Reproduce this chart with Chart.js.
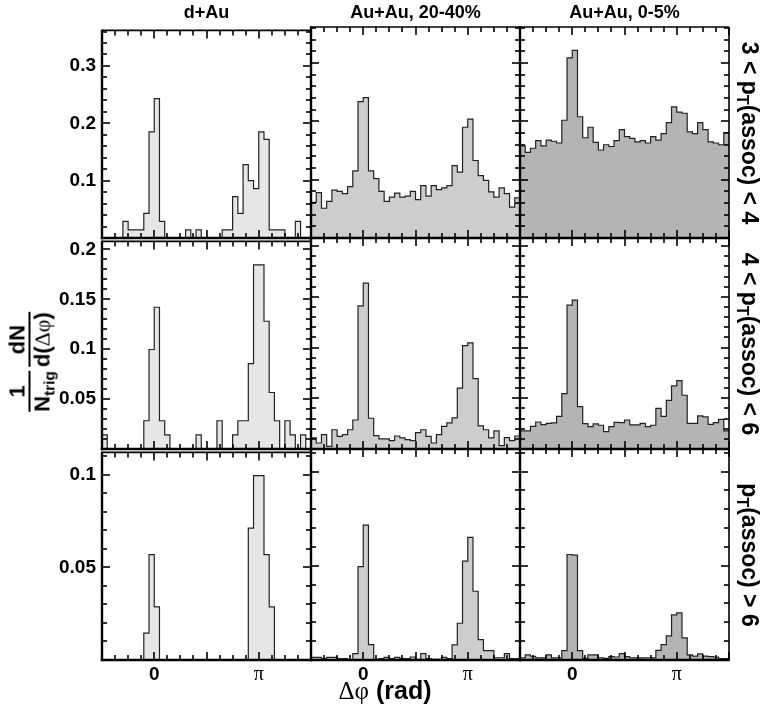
<!DOCTYPE html>
<html><head><meta charset="utf-8">
<script src="https://cdn.jsdelivr.net/npm/chart.js@4.4.0/dist/chart.umd.min.js"></script>
<style>
html,body{margin:0;padding:0;background:#fff;}
#root{position:relative;width:764px;height:709px;overflow:hidden;background:#fff;font-family:"Liberation Sans",Arial,sans-serif;color:#000;}
.panel{position:absolute;}
.panel canvas{display:block;}
.lbl{position:absolute;white-space:nowrap;font-weight:bold;line-height:1;}
.colhead{font-size:18px;transform:translate(-50%,-50%);}
.rowlab{font-size:23px;transform:translate(-50%,-50%) rotate(90deg);}
.sub{font-size:70%;position:relative;top:0.3em;}
.sym{font-family:"Liberation Serif","DejaVu Serif",serif;font-weight:normal;}
.frac{display:inline-flex;flex-direction:column;align-items:center;vertical-align:middle;margin:0 2px;}
.frac .den{border-top:2px solid #000;padding-top:1px;}
#ytitle{font-size:22px;transform:translate(-50%,-50%) rotate(-90deg);}
#xtitle{font-size:25px;transform:translate(-50%,-50%);}
</style></head><body><div id="root"></div>
<script>
// ---------- data (bin contents, 40 bins from -pi/2 to 3pi/2) ----------
const columns = ["d+Au", "Au+Au, 20-40%", "Au+Au, 0-5%"];
const rows = ["3 < p_T(assoc) < 4", "4 < p_T(assoc) < 6", "p_T(assoc) > 6"];

const dAu_pt3to4 = [0,0,0,0,0.029,0.014,0.014,0.014,0.043,0.185,0.243,0.029,0,0,0,0,0.014,0,0.014,0,0,0,0,0.014,0.014,0.072,0.043,0.128,0.100,0.086,0.185,0.172,0.014,0.014,0.014,0,0,0.029,0,0];
const auau2040_pt3to4 = [0.061,0.078,0.051,0.063,0.082,0.080,0.076,0.088,0.115,0.234,0.241,0.115,0.102,0.080,0.063,0.070,0.077,0.070,0.072,0.080,0.066,0.090,0.072,0.090,0.083,0.086,0.090,0.124,0.113,0.190,0.204,0.133,0.107,0.099,0.079,0.070,0.086,0.076,0.053,0.069];
const auau05_pt3to4 = [0.158,0.147,0.154,0.167,0.158,0.168,0.166,0.163,0.202,0.309,0.322,0.208,0.172,0.190,0.164,0.151,0.160,0.157,0.167,0.186,0.174,0.171,0.165,0.167,0.163,0.174,0.168,0.179,0.198,0.225,0.216,0.214,0.182,0.179,0.198,0.186,0.165,0.163,0.160,0.181];

const dAu_pt4to6 = [0.0141,0,0,0,0,0,0,0,0.0283,0.0997,0.142,0.0283,0.0141,0,0,0,0,0,0.0141,0,0,0,0.0283,0,0,0.0141,0.0283,0.0283,0.0855,0.1845,0.1845,0.128,0.0566,0.0283,0,0.0283,0.0141,0,0.0141,0];
const auau2040_pt4to6 = [0.0109,0.0059,0.0141,0.0026,0.019,0.0125,0.0141,0.019,0.0286,0.141,0.1635,0.0303,0.0132,0.0099,0.0099,0.0082,0.0128,0.0109,0.0092,0.0082,0.0161,0.019,0.0125,0.0059,0.0141,0.0224,0.0257,0.0306,0.060,0.102,0.1046,0.0694,0.0227,0.019,0.0109,0.0178,0.0033,0.0112,0.0082,0.0128];
const auau05_pt4to6 = [0.0178,0.0178,0.0224,0.0266,0.024,0.0253,0.0257,0.0322,0.0546,0.1418,0.1467,0.0418,0.025,0.022,0.0247,0.0234,0.0171,0.022,0.0263,0.026,0.0286,0.0237,0.0237,0.0253,0.022,0.0234,0.0401,0.0322,0.048,0.0622,0.0674,0.053,0.0253,0.0253,0.0326,0.0316,0.0243,0.026,0.0293,0.0178];

const dAu_pt6 = [0,0,0,0,0,0,0,0,0.0145,0.0569,0.0287,0,0,0,0,0,0,0,0,0,0,0,0,0,0,0,0,0,0.0711,0.0995,0.0995,0.0569,0.0287,0,0,0,0,0,0,0];
const auau2040_pt6 = [0.0014,0.0014,0.0007,0.0014,0.0014,0.0007,0.0007,0,0.0034,0.0496,0.0716,0.0082,0.0004,0.0007,0.0014,0.0007,0.0014,0.0007,0.0007,0.0016,0.0004,0.0034,0.0007,0.0004,0.0004,0.0014,0.0007,0.008,0.0195,0.0525,0.0651,0.0365,0.0108,0.005,0.005,0.0012,0.0012,0.0034,0.0007,0.0007];
const auau05_pt6 = [0.0012,0.0027,0.002,0.0011,0.0011,0.0027,0.0011,0.0011,0.005,0.056,0.0557,0.005,0.0009,0.0027,0.0027,0.0012,0.0009,0.0018,0.0016,0.0034,0.0018,0.0012,0.0011,0.0011,0.0012,0.0011,0.0051,0.0082,0.0128,0.0239,0.025,0.0117,0.0027,0.0021,0.0032,0.0021,0.0018,0.0016,0.0007,0.0007];

const panelData = [
  [dAu_pt3to4, auau2040_pt3to4, auau05_pt3to4],
  [dAu_pt4to6, auau2040_pt4to6, auau05_pt4to6],
  [dAu_pt6, auau2040_pt6, auau05_pt6]
];

// axis ranges & tick labels
const xMin = -Math.PI / 2, xMax = 3 * Math.PI / 2, nBins = 40;
const xTickLabelValues = [0, Math.PI];
const xTickLabelTexts = ["0", "\u03C0"];
const yMaxByRow = [0.362, 0.208, 0.112];
const yTickLabelsByRow = [["0.1", "0.2", "0.3"], ["0.05", "0.1", "0.15", "0.2"], ["0.05", "0.1"]];

// ---------- styles / layout ----------
const fills = ["#e6e6e6", "#cdcdcd", "#b4b4b4"];
const COL_LEFT = [102, 311, 520], ROW_TOP = [27, 238, 449], PW = 209, PH = 211;
const PAD_L = 80, PAD_R = 14, PAD_T = 14, PAD_B = 40;
const yMajorStep = [0.1, 0.05, 0.05], yMinorStep = [0.02, 0.01, 0.01];
const xMinorStep = Math.PI / 8, xMajorStep = Math.PI / 2;
const TICK_MAJOR = 8, TICK_MINOR = 5;

const root = document.getElementById('root');
const near = (a, b) => Math.abs(a - b) < 1e-7;
const isMult = (v, s) => Math.abs(v / s - Math.round(v / s)) < 1e-6;

function seg(ctx, x1, y1, x2, y2) { ctx.beginPath(); ctx.moveTo(x1, y1); ctx.lineTo(x2, y2); ctx.stroke(); }

function makePanel(r, c) {
  const wrap = document.createElement('div');
  wrap.className = 'panel';
  wrap.style.left = (COL_LEFT[c] - PAD_L) + 'px';
  wrap.style.top = (ROW_TOP[r] - PAD_T) + 'px';
  const cv = document.createElement('canvas');
  cv.width = PAD_L + PW + PAD_R;
  cv.height = PAD_T + PH + PAD_B;
  wrap.appendChild(cv);
  root.appendChild(wrap);

  const vals = panelData[r][c];
  const binW = (xMax - xMin) / nBins;
  const pts = [];
  for (let i = 0; i <= nBins; i++) pts.push({ x: xMin + i * binW, y: vals[Math.min(i, nBins - 1)] });

  const xTickVals = [];
  for (let k = 0; k <= Math.round((xMax - xMin) / xMinorStep); k++) xTickVals.push(xMin + k * xMinorStep);
  const yTickVals = [];
  for (let k = 0; k * yMinorStep[r] <= yMaxByRow[r] + 1e-9; k++) yTickVals.push(Math.round(k * yMinorStep[r] * 1000) / 1000);
  const yLabs = yTickLabelsByRow[r];

  const framePlugin = {
    id: 'rootFrame' + r + c,
    afterDraw(chart) {
      const ctx = chart.ctx, a = chart.chartArea;
      const xs = chart.scales.x, ys = chart.scales.y;
      ctx.save();
      ctx.strokeStyle = '#000';
      ctx.lineWidth = 1.6;
      ctx.lineCap = 'butt';
      xTickVals.forEach(v => {
        const p = Math.round(xs.getPixelForValue(v));
        const L = isMult(v, xMajorStep) ? TICK_MAJOR : TICK_MINOR;
        seg(ctx, p, a.bottom, p, a.bottom - L);
        seg(ctx, p, a.top, p, a.top + L);
      });
      yTickVals.forEach(v => {
        const p = Math.round(ys.getPixelForValue(v));
        const L = isMult(v, yMajorStep[r]) ? TICK_MAJOR : TICK_MINOR;
        seg(ctx, a.left, p, a.left + L, p);
        seg(ctx, a.right, p, a.right - L, p);
      });
      ctx.lineWidth = 1.6;
      seg(ctx, a.left, a.top, a.right, a.top);
      seg(ctx, a.right, a.top, a.right, a.bottom);
      ctx.lineWidth = 2.4;
      seg(ctx, a.left, a.top - 0.8, a.left, a.bottom + 1.2);
      seg(ctx, a.left - 1.2, a.bottom, a.right + 0.8, a.bottom);
      ctx.restore();
    }
  };

  new Chart(cv, {
    type: 'line',
    data: { datasets: [{
      data: pts, stepped: true, fill: 'origin',
      backgroundColor: fills[c], borderColor: '#222', borderWidth: 1.2,
      pointRadius: 0, pointHoverRadius: 0, tension: 0
    }] },
    options: {
      responsive: false, animation: false, events: [],
      layout: { padding: { left: 0, right: PAD_R, top: PAD_T, bottom: 0 } },
      plugins: { legend: { display: false }, tooltip: { enabled: false } },
      scales: {
        x: {
          type: 'linear', min: xMin, max: xMax,
          afterBuildTicks: s => { s.ticks = xTickVals.map(v => ({ value: v })); },
          afterFit: s => { s.height = PAD_B; },
          grid: { display: false, drawTicks: false }, border: { display: false },
          ticks: {
            display: r === 2, autoSkip: false, maxRotation: 0, minRotation: 0, padding: 3, color: '#000',
            callback: v => { const i = xTickLabelValues.findIndex(q => near(q, v)); return i >= 0 ? xTickLabelTexts[i] : ''; },
            font: ctx => (ctx.tick && near(ctx.tick.value, Math.PI))
              ? { family: '"Liberation Serif", serif', size: 20, weight: 'normal' }
              : { family: '"Liberation Sans", Arial, sans-serif', size: 19, weight: 'bold' }
          }
        },
        y: {
          type: 'linear', min: 0, max: yMaxByRow[r],
          afterBuildTicks: s => { s.ticks = yTickVals.map(v => ({ value: v })); },
          afterFit: s => { s.width = PAD_L; },
          grid: { display: false, drawTicks: false }, border: { display: false },
          ticks: {
            display: c === 0, autoSkip: false, padding: 6, color: '#000',
            font: { family: '"Liberation Sans", Arial, sans-serif', size: 19, weight: 'bold' },
            callback: v => { const l = yLabs.find(q => near(parseFloat(q), v)); return l || ''; }
          }
        }
      }
    },
    plugins: [framePlugin]
  });
}

for (let r = 0; r < 3; r++) for (let c = 0; c < 3; c++) makePanel(r, c);

// ---------- text labels ----------
function addLabel(html, cls, x, y, id) {
  const d = document.createElement('div');
  d.className = 'lbl ' + cls;
  if (id) d.id = id;
  d.style.left = x + 'px'; d.style.top = y + 'px';
  d.innerHTML = html;
  root.appendChild(d);
}

columns.forEach((t, c) => addLabel(t, 'colhead', COL_LEFT[c] + PW / 2, 12));
rows.forEach((t, r) => {
  const h = t.split(' < ').join(' &lt; ').split(' > ').join(' &gt; ').replace('p_T', 'p<span class="sub">T</span>');
  addLabel(h, 'rowlab', 749, ROW_TOP[r] + PH / 2);
});
addLabel('<span class="frac"><span class="num">1</span><span class="den">N<span class="sub">trig</span></span></span>' +
         '<span class="frac"><span class="num">dN</span><span class="den">d(<span class="sym">\u0394\u03C6</span>)</span></span>',
         '', 30, 362, 'ytitle');
addLabel('<span class="sym">\u0394\u03C6</span> (rad)', '', 385, 690, 'xtitle');
</script></body></html>
